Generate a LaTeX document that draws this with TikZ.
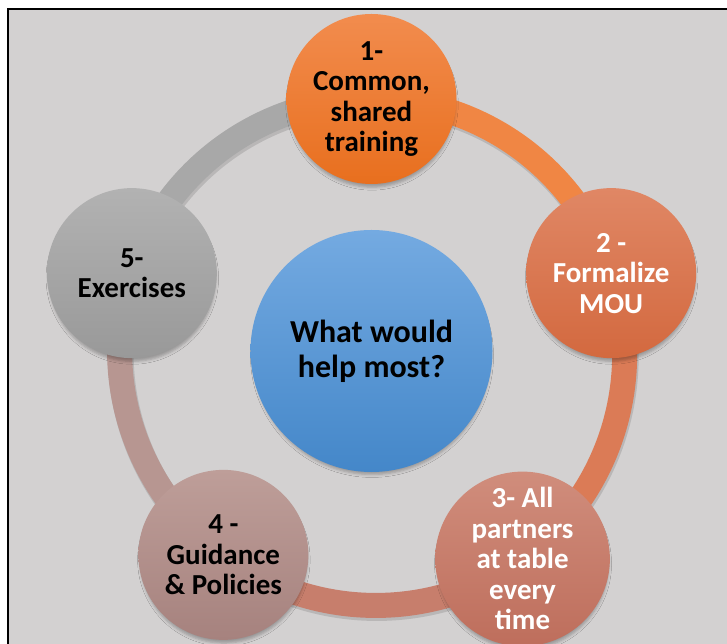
\documentclass[tikz,border=0pt]{standalone}
\usepackage{fontspec}
\setmainfont{Carlito}
\usepackage{xcolor}
\usepackage{tikz}
\usetikzlibrary{shadows.blur}
\pgfdeclarelayer{background}
\pgfsetlayers{background,main}

\definecolor{panelgray}{HTML}{D3D1D1}
\definecolor{orangeA}{HTML}{F28C4E}
\definecolor{orangeB}{HTML}{E86F1E}
\definecolor{rustA}{HTML}{E08765}
\definecolor{rustB}{HTML}{D3693F}
\definecolor{salmonA}{HTML}{D08D7C}
\definecolor{salmonB}{HTML}{BE6E5C}
\definecolor{roseA}{HTML}{BE9E99}
\definecolor{roseB}{HTML}{A6827E}
\definecolor{greyA}{HTML}{B2B2B2}
\definecolor{greyB}{HTML}{999999}
\definecolor{blueA}{HTML}{74AAE1}
\definecolor{blueB}{HTML}{4487C9}

\begin{document}
\begin{tikzpicture}[x=1pt, y=1pt,
    topic/.style={circle, minimum size=170pt, inner sep=0pt, align=center,
      font=\fontsize{29}{30.5}\selectfont\bfseries,
      blur shadow={shadow xshift=0.5pt, shadow yshift=-5pt, shadow scale=0.98, shadow blur radius=3pt, shadow opacity=28}},
    hub/.style={topic, minimum size=242pt, font=\fontsize{32}{35}\selectfont\bfseries},
    ring/.style={line width=25pt, bend left=36, looseness=0.94,
      preaction={draw=black, draw opacity=0.12, line width=26pt, transform canvas={xshift=1pt, yshift=-2.5pt}}},
  ]
  \useasboundingbox (-371.5,-293) rectangle (355.5,351);

  \node[topic, top color=orangeA, bottom color=orangeB] (training) at (90:252) {1-\\Common,\\shared\\training};
  \node[topic, top color=rustA, bottom color=rustB, text=white] (mou) at (18:252) {2 -\\Formalize\\MOU};
  \node[topic, top color=salmonA, bottom color=salmonB, text=white] (partners) at (-54:257) {3- All\\partners\\at table\\every\\time};
  \node[topic, top color=roseA, bottom color=roseB] (guidance) at (-126:252) {4 -\\Guidance\\\& Policies};
  \node[topic, top color=greyA, bottom color=greyB] (exercises) at (162:252) {5-\\Exercises};
  \node[hub, top color=blueA, bottom color=blueB] (question) at (0,0) {What would\\help most?};

  % panel and cycle band behind the circles
  \begin{pgfonlayer}{background}
    \fill[white] (-371.5,-293) rectangle (355.5,351);
    \draw[line width=2.5pt, fill=panelgray] (-363.7,342) rectangle (380,-310);
    \draw[ring, draw=orangeA!80!orangeB] (training.center) to (mou.center);
    \draw[ring, draw=rustA!60!rustB] (mou.center) to (partners.center);
    \draw[ring, draw=salmonA!50!salmonB] (partners.center) to (guidance.center);
    \draw[ring, draw=roseA!70!roseB] (guidance.center) to (exercises.center);
    \draw[ring, draw=greyA!60!greyB] (exercises.center) to (training.center);
  \end{pgfonlayer}
\end{tikzpicture}
\end{document}
